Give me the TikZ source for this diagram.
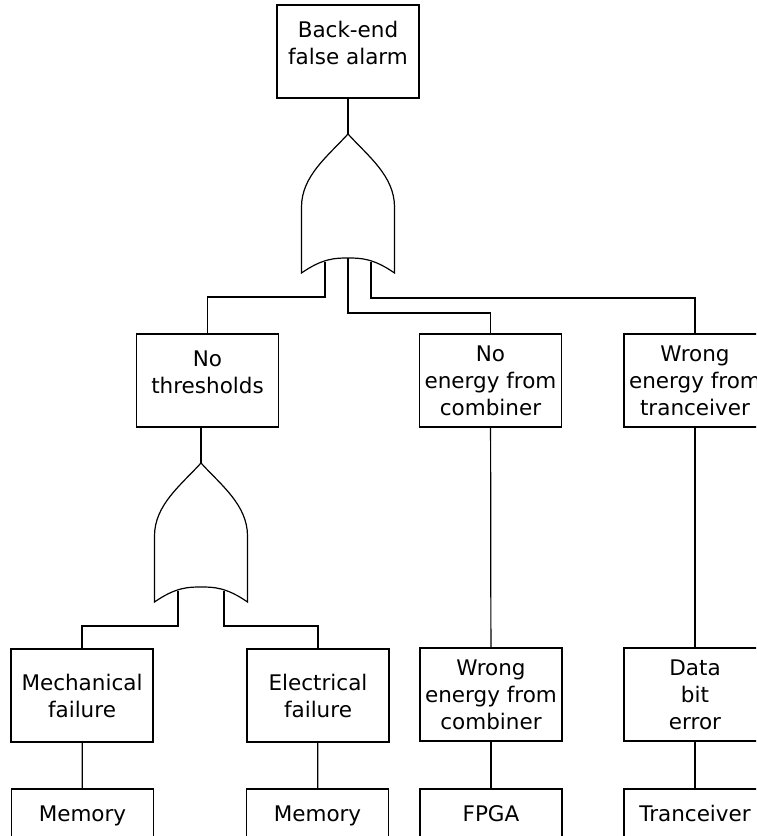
\documentclass[tikz,border=0pt]{standalone}
\usepackage{fontspec}
\setmainfont{DejaVu Sans}
\usetikzlibrary{positioning}

\tikzset{
  event/.style={draw,rectangle,minimum width=142pt,minimum height=93pt,
                align=center,font=\fontsize{21.5}{27}\selectfont},
  % text pushed towards the top of the box
  raised/.style={text height=43pt,text depth=17pt},
  raisedone/.style={text height=16pt,text depth=45pt},
  % fault tree OR gate, tip at the origin, y grows downwards
  orgate/.pic={
    \draw (0,0) .. controls (-20,22) and (-46.5,42) .. (-46.5,73)
          -- (-46.5,139) .. controls (-25,124) and (-12,124) .. (0,124)
          .. controls (12,124) and (25,124) .. (46.5,139)
          -- (46.5,73) .. controls (46.5,42) and (20,22) .. (0,0) -- cycle;
    \coordinate (-tip) at (0,0);
    \coordinate (-in1) at (-23,128);
    \coordinate (-in2) at (0,124);
    \coordinate (-in3) at (23,128);
  }
}

\begin{document}
\begin{tikzpicture}[x=1pt,y=-1pt,line width=1.2pt]
  \useasboundingbox (0,0) rectangle (756,836);
  \clip (0,0) rectangle (756,836);

  % top event and first gate
  \node[event,raised] (top) at (348,51.5) {Back-end\\false alarm};
  \pic (g1) at (348,134) {orgate};

  % second level
  \node[event,raised] (thr) at (207.5,380.5) {No\\thresholds};
  \node[event] (nec) at (490.5,380.5) {No\\energy from\\combiner};
  \node[event] (wet) at (695,380.5) {Wrong\\energy from\\tranceiver};
  \pic (g2) at (201,463) {orgate};

  % third level
  \node[event] (mech) at (82,695.5) {Mechanical\\failure};
  \node[event] (elec) at (318,695.5) {Electrical\\failure};
  \node[event] (wec) at (491,694.5) {Wrong\\energy from\\combiner};
  \node[event] (dbe) at (695,694.5) {Data\\bit\\error};

  % components
  \node[event,raisedone] (mem1) at (82.5,835.5) {Memory};
  \node[event,raisedone] (mem2) at (317.5,835.5) {Memory};
  \node[event,raisedone] (fpga) at (491,835.5) {FPGA};
  \node[event,raisedone] (trx) at (695,835.5) {Tranceiver};

  \draw (top) -- (g1-tip);
  \draw (g1-in1) -- ++(0,35) -| (thr);
  \draw (g1-in2) -- ++(0,55) -| (nec);
  \draw (g1-in3) -- ++(0,36) -| (wet);

  \draw (g2-tip) -- (g2-tip |- thr.south);
  \draw (g2-in1) -- ++(0,35) -| (mech);
  \draw (g2-in3) -- ++(0,35) -| (elec);

  \draw (nec) -- (wec);
  \draw (wet) -- (dbe);
  \draw (mech) -- (mem1);
  \draw (elec) -- (mem2);
  \draw (wec) -- (fpga);
  \draw (dbe) -- (trx);
\end{tikzpicture}
\end{document}
